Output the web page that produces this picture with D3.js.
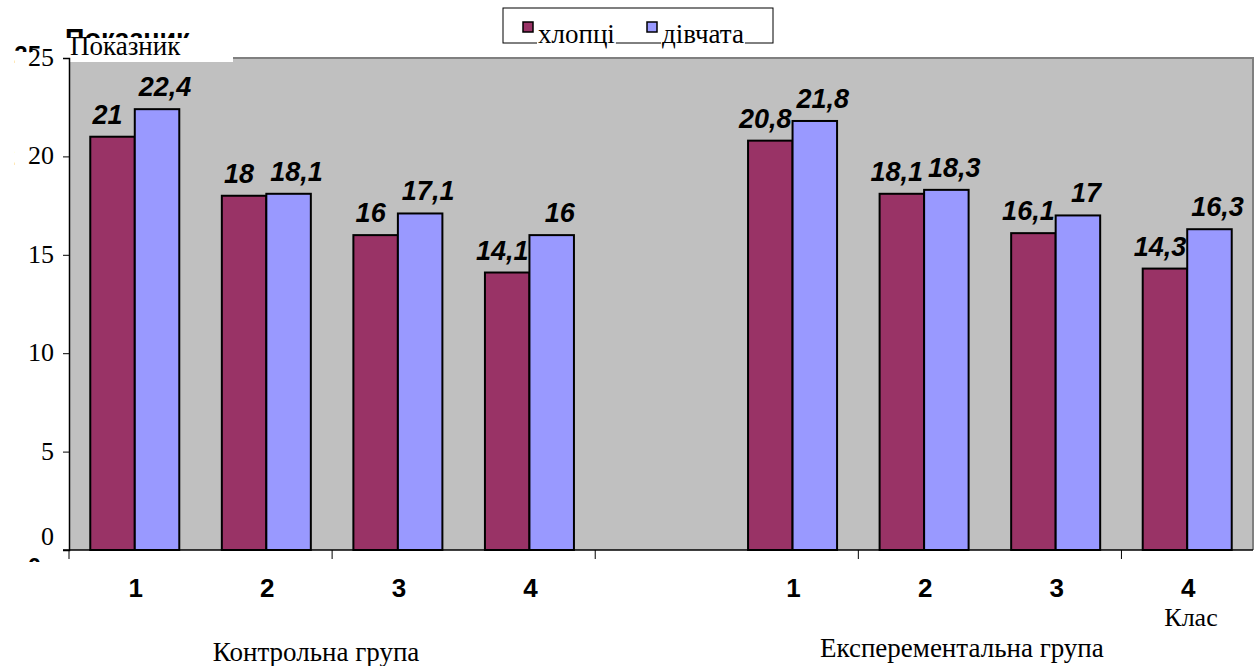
<!DOCTYPE html>
<html>
<head>
<meta charset="utf-8">
<script src="https://cdn.jsdelivr.net/npm/d3@7"></script>
<style>
body { margin: 0; background: #fff; }
svg { display: block; }
</style>
</head>
<body>
<div id="viz"></div>
<script>
// data
var classes = ["1", "2", "3", "4"];
var groups = ["Контрольна група", "Експерементальна група"];
var seriesNames = ["хлопці", "дівчата"];
var boys = [21, 18, 16, 14.1, 20.8, 18.1, 16.1, 14.3];
var girls = [22.4, 18.1, 17.1, 16, 21.8, 18.3, 17, 16.3];
var yTicks = [0, 5, 10, 15, 20, 25];

var colors = ["#993366", "#9999FF"];
var SERIF = "'Times New Roman', Times, 'Liberation Serif', 'DejaVu Serif', serif";
var SANS = "Arial, 'Liberation Sans', sans-serif";

var W = 1256, H = 666;
var plotL = 69, plotR = 1253, plotT = 58, plotB = 550;

var svg = d3.select("#viz").append("svg")
    .attr("width", W)
    .attr("height", H);

// slots: 4 control, 1 empty, 4 experimental
var slots = [];
classes.forEach(function(c){ slots.push("k" + c); });
slots.push("gap");
classes.forEach(function(c){ slots.push("e" + c); });

var rows = [];
classes.forEach(function(c, i){
    rows.push({slot: "k" + c, label: c, vals: [boys[i], girls[i]]});
});
classes.forEach(function(c, i){
    rows.push({slot: "e" + c, label: c, vals: [boys[i + 4], girls[i + 4]]});
});

var x = d3.scaleBand().domain(slots).range([plotL, plotR]).paddingInner(0).paddingOuter(0);
var xs = d3.scaleBand().domain([0, 1]).range([0, x.bandwidth()]).paddingInner(0).paddingOuter(0.478);
var y = d3.scaleLinear().domain([0, 25]).range([plotB, plotT]);
var yGhost = d3.scaleLinear().domain([0, 25]).range([567, 55]);

var fmt = function(v){ return String(v).replace(".", ","); };

// ghost labels left behind in the original picture
svg.selectAll("text.ghost").data(yTicks).enter().append("text")
    .attr("class", "ghost")
    .attr("x", 41)
    .attr("y", function(d){ return yGhost(d) + 8; })
    .attr("text-anchor", "end")
    .attr("font-family", SANS)
    .attr("font-weight", "bold")
    .attr("font-size", 24)
    .text(function(d){ return d; });
svg.append("text")
    .attr("x", 65).attr("y", 48)
    .attr("font-family", SANS)
    .attr("font-weight", "bold")
    .attr("font-size", 27)
    .text("Показник");
svg.append("rect").attr("x", 15).attr("y", 52).attr("width", 53).attr("height", 506).attr("fill", "#fff");
svg.append("rect").attr("x", 10).attr("y", 562).attr("width", 58).attr("height", 40).attr("fill", "#fff");

// plot area
svg.append("rect")
    .attr("x", plotL).attr("y", plotT)
    .attr("width", plotR - plotL).attr("height", plotB - plotT)
    .attr("fill", "#C0C0C0");
svg.append("line").attr("x1", plotL).attr("x2", plotR + 1).attr("y1", plotT).attr("y2", plotT)
    .attr("stroke", "#808080").attr("stroke-width", 2);
svg.append("line").attr("x1", plotR).attr("x2", plotR).attr("y1", plotT).attr("y2", plotB)
    .attr("stroke", "#808080").attr("stroke-width", 2);

// white box over top-left with axis title
svg.append("rect").attr("x", 65).attr("y", 38).attr("width", 168).attr("height", 24).attr("fill", "#fff");
svg.append("text")
    .attr("x", 70).attr("y", 55)
    .attr("font-family", SERIF)
    .attr("font-size", 27)
    .text("Показник");

// bars
var g = svg.selectAll("g.cat").data(rows).enter().append("g")
    .attr("class", "cat")
    .attr("transform", function(d){ return "translate(" + x(d.slot) + ",0)"; });

g.selectAll("rect").data(function(d){ return d.vals; }).enter().append("rect")
    .attr("x", function(d, i){ return xs(i); })
    .attr("y", function(d){ return y(d); })
    .attr("width", xs.bandwidth())
    .attr("height", function(d){ return y(0) - y(d); })
    .attr("fill", function(d, i){ return colors[i]; })
    .attr("stroke", "#000")
    .attr("stroke-width", 2);

g.selectAll("text").data(function(d){ return d.vals; }).enter().append("text")
    .attr("x", function(d, i){ return xs(i) + xs.bandwidth() / 2 + (i ? 8 : -5); })
    .attr("y", function(d){ return y(d) - 13; })
    .attr("text-anchor", "middle")
    .attr("font-family", SANS)
    .attr("font-weight", "bold")
    .attr("font-style", "italic")
    .attr("font-size", 27)
    .text(fmt);

// y axis
var yAxis = d3.axisLeft(y).tickValues(yTicks).tickSize(6).tickFormat("");
var ya = svg.append("g").attr("transform", "translate(" + plotL + ",0)").call(yAxis);
ya.select(".domain").attr("stroke", "#000").attr("stroke-width", 1.5);
ya.selectAll(".tick line").attr("stroke", "#000");
svg.selectAll("text.ylab").data(yTicks).enter().append("text")
    .attr("class", "ylab")
    .attr("x", 54)
    .attr("y", function(d){ return y(d) + 8 - (d === 0 ? 13 : 0); })
    .attr("text-anchor", "end")
    .attr("font-family", SERIF)
    .attr("font-size", 26)
    .text(function(d){ return d; });

// x axis
svg.append("line").attr("x1", 63).attr("x2", plotR).attr("y1", plotB).attr("y2", plotB)
    .attr("stroke", "#000").attr("stroke-width", 1.5);
var tickSlots = slots.filter(function(s, i){ return i % 2 === 0; });
svg.selectAll("line.xt").data(tickSlots).enter().append("line")
    .attr("class", "xt")
    .attr("x1", function(d){ return x(d); })
    .attr("x2", function(d){ return x(d); })
    .attr("y1", plotB).attr("y2", plotB + 9)
    .attr("stroke", "#000");
svg.selectAll("text.xlab").data(rows).enter().append("text")
    .attr("class", "xlab")
    .attr("x", function(d){ return x(d.slot) + x.bandwidth() / 2 + 1; })
    .attr("y", 597)
    .attr("text-anchor", "middle")
    .attr("font-family", SANS)
    .attr("font-weight", "bold")
    .attr("font-size", 26)
    .text(function(d){ return d.label; });

svg.append("text")
    .attr("x", 1191).attr("y", 626)
    .attr("text-anchor", "middle")
    .attr("font-family", SERIF)
    .attr("font-size", 26)
    .text("Клас");

var groupCenters = [(x("k1") + x("k4") + x.bandwidth()) / 2 - 16, (x("e1") + x("e4") + x.bandwidth()) / 2 - 28];
svg.selectAll("text.grp").data(groups).enter().append("text")
    .attr("class", "grp")
    .attr("x", function(d, i){ return groupCenters[i]; })
    .attr("y", function(d, i){ return i ? 657 : 661; })
    .attr("text-anchor", "middle")
    .attr("font-family", SERIF)
    .attr("font-size", 27)
    .text(function(d){ return d; });

// legend
var leg = svg.append("g");
leg.append("rect").attr("x", 503).attr("y", 8).attr("width", 270).attr("height", 35)
    .attr("fill", "#fff").attr("stroke", "#000").attr("stroke-width", 1);
var legX = [523, 647];
var items = leg.selectAll("g.item").data(seriesNames).enter().append("g").attr("class", "item");
var labels = items.append("text")
    .attr("x", function(d, i){ return legX[i] + 15; })
    .attr("y", 43)
    .attr("font-family", SERIF)
    .attr("font-size", 27)
    .text(function(d){ return d; });
labels.each(function(){
    var b = this.getBBox();
    d3.select(this.parentNode).insert("rect", "text")
        .attr("x", b.x - 1).attr("y", 36).attr("width", b.width + 2).attr("height", 14)
        .attr("fill", "#fff");
});
items.append("rect")
    .attr("x", function(d, i){ return legX[i]; })
    .attr("y", 22).attr("width", 10).attr("height", 10)
    .attr("fill", function(d, i){ return colors[i]; })
    .attr("stroke", "#000").attr("stroke-width", 1.5);
</script>
</body>
</html>
